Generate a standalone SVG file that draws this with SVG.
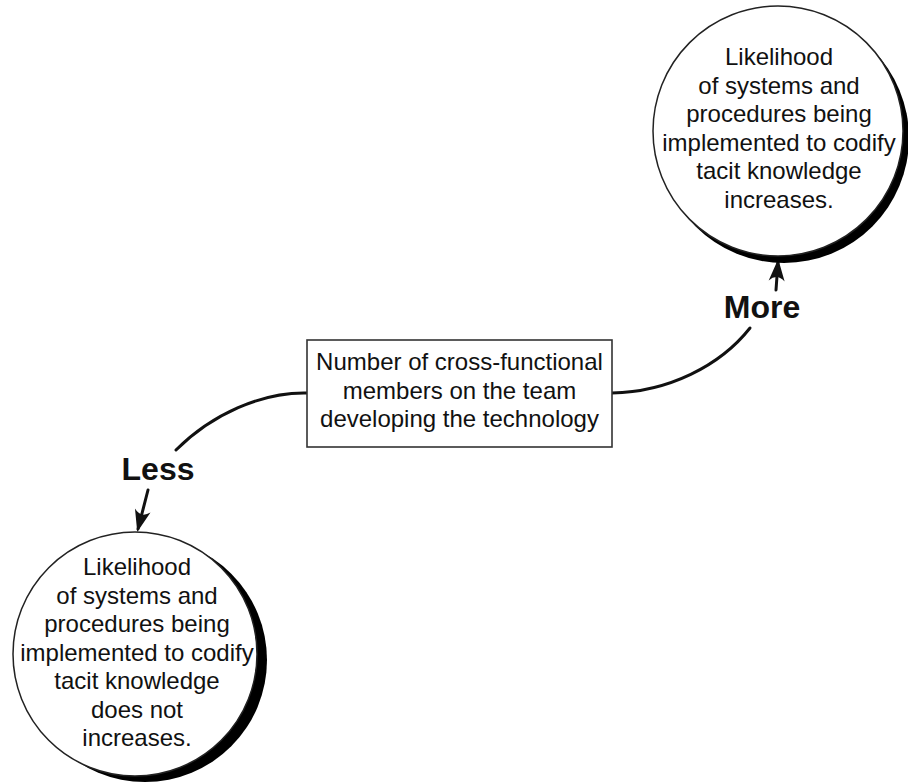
<svg xmlns="http://www.w3.org/2000/svg" width="908" height="784" viewBox="0 0 908 784">
<style>
  .t { font-family: "Liberation Sans", Arial, sans-serif; font-size: 24px; fill: #111; text-anchor: middle; }
  .lbl { font-family: "Liberation Sans", Arial, sans-serif; font-size: 32px; font-weight: bold; fill: #111; text-anchor: middle; }
  .ring { fill: #fff; stroke: #222; stroke-width: 1.5; }
  .shadow { fill: #000; }
  .box { fill: #fff; stroke: #333; stroke-width: 1.6; }
  .conn { fill: none; stroke: #111; stroke-width: 3; stroke-linecap: round; }
</style>
<defs>
  <marker id="barb" markerUnits="userSpaceOnUse" markerWidth="26" markerHeight="20" viewBox="-22 -10 26 20" refX="0" refY="0" orient="auto">
    <path d="M3,0 L-19,-8 Q-11,0 -19,8 Z" fill="#111"/>
  </marker>
</defs>
<rect width="908" height="784" fill="#fff"/>

<g id="connectors">
  <path class="conn" d="M307,393 C262,392 212,414 176,450"/>
  <path class="conn" d="M612,393 C668,392 720,366 750,328"/>
  <line class="conn" x1="148" y1="490" x2="138" y2="529" marker-end="url(#barb)"/>
  <line class="conn" x1="776" y1="290" x2="778" y2="262" marker-end="url(#barb)"/>
</g>

<g id="node-more-circle">
  <circle class="shadow" cx="784" cy="138" r="125"/>
  <circle class="ring" cx="778" cy="131" r="125"/>
  <text class="t" x="779" y="65">Likelihood</text>
  <text class="t" x="779" y="93.5">of systems and</text>
  <text class="t" x="779" y="122">procedures being</text>
  <text class="t" x="779" y="150.5">implemented to codify</text>
  <text class="t" x="779" y="179">tacit knowledge</text>
  <text class="t" x="779" y="207.5">increases.</text>
</g>

<g id="node-center-box">
  <rect class="box" x="307" y="340" width="305" height="107"/>
  <text class="t" x="459.5" y="370">Number of cross-functional</text>
  <text class="t" x="459.5" y="399">members on the team</text>
  <text class="t" x="459.5" y="427">developing the technology</text>
</g>

<g id="label-more">
  <text class="lbl" x="762" y="318">More</text>
</g>

<g id="label-less">
  <text class="lbl" x="158" y="480">Less</text>
</g>

<g id="node-less-circle">
  <circle class="shadow" cx="145" cy="660" r="122"/>
  <circle class="ring" cx="135" cy="654" r="122"/>
  <text class="t" x="137" y="575">Likelihood</text>
  <text class="t" x="137" y="603.5">of systems and</text>
  <text class="t" x="137" y="632">procedures being</text>
  <text class="t" x="137" y="660.5">implemented to codify</text>
  <text class="t" x="137" y="689">tacit knowledge</text>
  <text class="t" x="137" y="717.5">does not</text>
  <text class="t" x="137" y="746">increases.</text>
</g>
</svg>
